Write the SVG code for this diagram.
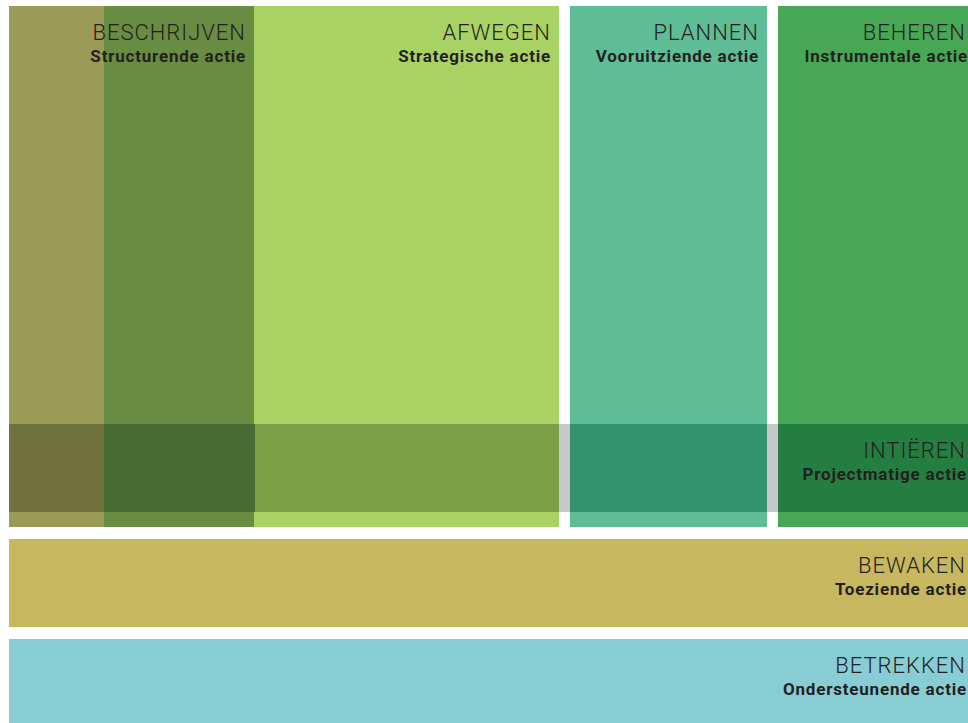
<svg xmlns="http://www.w3.org/2000/svg" width="968" height="723" viewBox="0 0 968 723">
<style>
.t{font-family:Roboto,"Liberation Sans",sans-serif;font-weight:300;font-size:22px;fill:#231f20;text-anchor:end;letter-spacing:1px}
.s{font-family:Roboto,"Liberation Sans",sans-serif;font-weight:700;font-size:17px;fill:#231f20;text-anchor:end;letter-spacing:0.8px}
</style>
<rect width="968" height="723" fill="#ffffff"/>
<g id="beschrijven">
<rect x="9" y="6" width="95" height="521" fill="#9b9a57"/>
<rect x="104" y="6" width="150" height="521" fill="#698c43"/>
<text class="t" x="246" y="40">BESCHRIJVEN</text>
<text class="s" x="246" y="62">Structurende actie</text>
</g>
<g id="afwegen">
<rect x="254" y="6" width="305" height="521" fill="#a9d264"/>
<text class="t" x="551" y="40">AFWEGEN</text>
<text class="s" x="551" y="62">Strategische actie</text>
</g>
<g id="plannen">
<rect x="570" y="6" width="197" height="521" fill="#5ebc97"/>
<text class="t" x="759" y="40">PLANNEN</text>
<text class="s" x="759" y="62">Vooruitziende actie</text>
</g>
<g id="beheren">
<rect x="778" y="6" width="190" height="521" fill="#48a754"/>
<text class="t" x="966" y="40">BEHEREN</text>
<text class="s" x="968" y="62">Instrumentale actie</text>
</g>
<g id="intieren">
<rect x="9" y="424" width="959" height="88" fill="#c7c8cb"/>
<rect x="9" y="424" width="95" height="88" fill="#6f723c"/>
<rect x="104" y="424" width="151" height="88" fill="#476b33"/>
<rect x="255" y="424" width="304" height="88" fill="#79a045"/>
<rect x="570" y="424" width="197" height="88" fill="#339370"/>
<rect x="778" y="424" width="190" height="88" fill="#257e41"/>
<text class="t" x="966" y="458">INTIËREN</text>
<text class="s" x="967" y="480">Projectmatige actie</text>
</g>
<g id="bewaken">
<rect x="9" y="539" width="959" height="88" fill="#c7b75e"/>
<text class="t" x="966" y="573">BEWAKEN</text>
<text class="s" x="967" y="595">Toeziende actie</text>
</g>
<g id="betrekken">
<rect x="9" y="639" width="959" height="84" fill="#88cdd4"/>
<text class="t" x="966" y="673">BETREKKEN</text>
<text class="s" x="967" y="695">Ondersteunende actie</text>
</g>
<g id="connectors"/>
</svg>
